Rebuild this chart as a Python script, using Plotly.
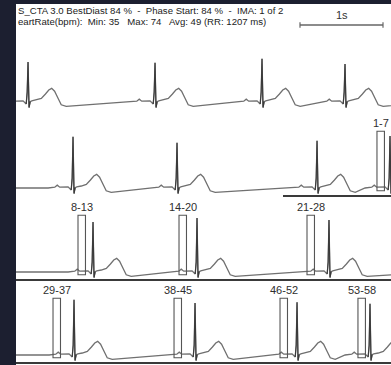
import plotly.graph_objects as go

# ---------------- data ----------------
HEADER_1 = "S_CTA 3.0 BestDiast 84 %  -  Phase Start: 84 %  -  IMA: 1 of 2"
HEADER_2 = "eartRate(bpm):  Min: 35   Max: 74   Avg: 49 (RR: 1207 ms)"
SCALE_LABEL = "1s"

# beat template: time relative to R peak (s) and amplitude (mV); R point scaled per beat
BEAT_T = [-0.30, -0.22, -0.19, -0.16, -0.06, -0.022, -0.010, 0.0, 0.012, 0.026, 0.045,
          0.10, 0.16, 0.21, 0.25, 0.285, 0.32, 0.36, 0.40, 0.46]
BEAT_V = [0.0, 0.02, 0.07, 0.02, 0.03, -0.05, 0.25, 1.0, -0.14, 0.01, 0.03,
          0.05, 0.09, 0.20, 0.30, 0.34, 0.27, 0.10, -0.07, -0.11]

# R-peak times per strip (s from strip start) and R amplitudes (mV)
STRIP1_R = [0.145, 1.675, 2.964, 3.964]
STRIP1_AMP = [1.00, 0.98, 1.08, 0.95]
STRIP2_R = [0.687, 1.940, 3.627, 4.506]
STRIP2_AMP = [1.28, 1.13, 1.18, 1.30]
STRIP3_R = [0.928, 2.181, 3.771]
STRIP3_AMP = [1.25, 1.35, 1.30]
STRIP4_R = [0.699, 2.157, 3.386, 4.265]
STRIP4_AMP = [1.38, 1.30, 1.32, 1.28]

# reconstruction windows (start time, s) and image-range labels per strip
STRIP2_BOX = [4.349]
STRIP2_LBL = ["1-7"]
STRIP3_BOX = [0.747, 1.964, 3.506]
STRIP3_LBL = ["8-13", "14-20", "21-28"]
STRIP4_BOX = [0.446, 1.904, 3.181, 4.120]
STRIP4_LBL = ["29-37", "38-45", "46-52", "53-58"]

# ---------------- layout constants ----------------
W, H = 391, 365
LEFT_PX = 16
TOP_PX = 4
PX_PER_S = 83.0
PX_PER_MV = 40.0
X_MAX = (W - LEFT_PX) / PX_PER_S
Y_MAX = (H - TOP_PX) / PX_PER_MV


def yv(p):
    return (H - p) / PX_PER_MV


def xs(p):
    return (p - LEFT_PX) / PX_PER_S


BASELINES = [yv(102), yv(188), yv(272), yv(355)]
BOX_W = 0.09
BOX_TOP = 1.42
BOX_BOT = -0.07
LABEL_OFF = 1.63
QRS_SPAN = (-0.022, 0.026)

TRACE_COLOR = "#707070"
QRS_COLOR = "#3a3a3a"
BOX_COLOR = "#555555"
DARK = "#1c1f30"

strips = [
    (STRIP1_R, STRIP1_AMP, [], []),
    (STRIP2_R, STRIP2_AMP, STRIP2_BOX, STRIP2_LBL),
    (STRIP3_R, STRIP3_AMP, STRIP3_BOX, STRIP3_LBL),
    (STRIP4_R, STRIP4_AMP, STRIP4_BOX, STRIP4_LBL),
]

fig = go.Figure()
shapes = []
annotations = []

for (rts, amps, boxes, labels), base in zip(strips, BASELINES):
    x = [-0.5]
    y = [base]
    qx, qy = [], []
    for rt, amp in zip(rts, amps):
        for t, v in zip(BEAT_T, BEAT_V):
            val = base + (v * amp if t == 0.0 else v)
            x.append(rt + t)
            y.append(val)
            if QRS_SPAN[0] <= t <= QRS_SPAN[1]:
                qx.append(rt + t)
                qy.append(val)
        qx.append(None)
        qy.append(None)
    x.append(X_MAX + 0.5)
    y.append(base)
    fig.add_trace(go.Scatter(x=x, y=y, mode="lines",
                             line=dict(color=TRACE_COLOR, width=1.3),
                             hoverinfo="skip", showlegend=False))
    fig.add_trace(go.Scatter(x=qx, y=qy, mode="lines",
                             line=dict(color=QRS_COLOR, width=1.1),
                             hoverinfo="skip", showlegend=False))
    for b, lab in zip(boxes, labels):
        shapes.append(dict(type="rect", xref="x", yref="y",
                           x0=b, x1=b + BOX_W, y0=base + BOX_BOT, y1=base + BOX_TOP,
                           line=dict(color=BOX_COLOR, width=1.1)))
        annotations.append(dict(x=b + BOX_W / 2, y=base + LABEL_OFF, xref="x", yref="y",
                                text=lab, showarrow=False,
                                font=dict(family="Liberation Sans, Arial", size=11,
                                          color="#2e2e2e")))

# separator lines
for (x0p, yp) in [(283, 196), (LEFT_PX, 280), (LEFT_PX, 363)]:
    shapes.append(dict(type="line", xref="x", yref="y", x0=xs(x0p), x1=X_MAX,
                       y0=yv(yp), y1=yv(yp), line=dict(color="#3a3a3a", width=2)))

# 1 s scale bar
sb0, sb1, sby = xs(300), xs(300) + 1.0, yv(25)
shapes.append(dict(type="line", xref="x", yref="y", x0=sb0, x1=sb1, y0=sby, y1=sby,
                   line=dict(color="#666666", width=1.5)))
for sx in (sb0, sb1):
    shapes.append(dict(type="line", xref="x", yref="y", x0=sx, x1=sx,
                       y0=sby - 0.07, y1=sby + 0.07, line=dict(color="#666666", width=1.2)))
annotations.append(dict(x=(sb0 + sb1) / 2, y=yv(15), xref="x", yref="y", text=SCALE_LABEL,
                        showarrow=False,
                        font=dict(family="Liberation Sans, Arial", size=11, color="#333333")))

# header
for txt, p in [(HEADER_1, 10), (HEADER_2, 22)]:
    annotations.append(dict(x=LEFT_PX / W, y=1 - p / H, xref="paper", yref="paper",
                            xanchor="left", yanchor="middle", text=txt, showarrow=False,
                            font=dict(family="Liberation Sans, Arial", size=9.6,
                                      color="#222222")))

fig.update_layout(
    width=W, height=H,
    margin=dict(l=0, r=0, t=0, b=0),
    paper_bgcolor=DARK, plot_bgcolor="white",
    xaxis=dict(domain=[LEFT_PX / W, 1], range=[0, X_MAX], visible=False, fixedrange=True),
    yaxis=dict(domain=[0, (H - TOP_PX) / H], range=[0, Y_MAX], visible=False, fixedrange=True),
    shapes=shapes, annotations=annotations,
)

fig.write_html("out.html")
